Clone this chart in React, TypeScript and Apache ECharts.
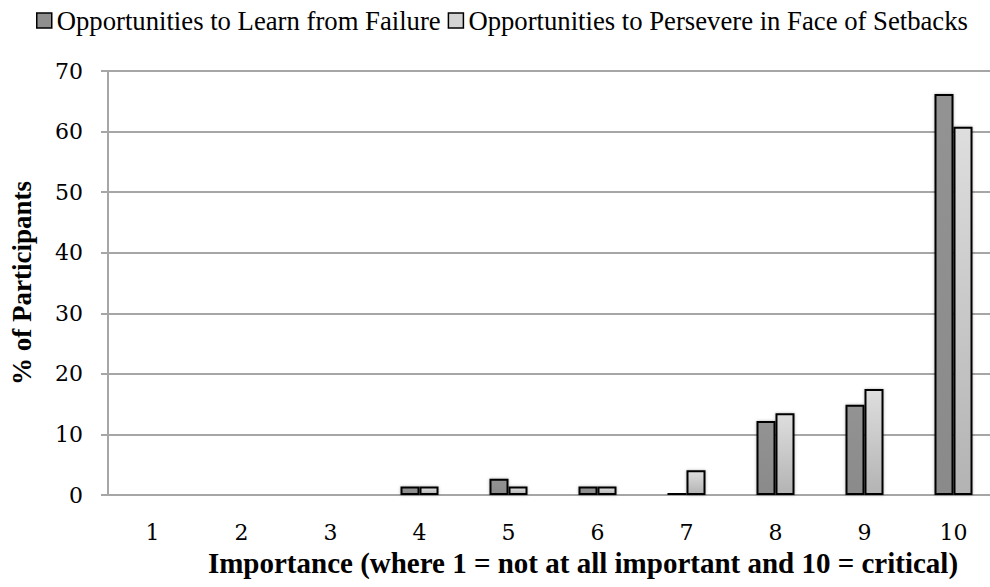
import React, { useEffect, useRef } from "react";
import * as echarts from "echarts";

const categories = ["1", "2", "3", "4", "5", "6", "7", "8", "9", "10"];
const learnFromFailure = [0, 0, 0, 1.4, 2.7, 1.4, 0.4, 12.2, 14.9, 66.2];
const persevere = [0, 0, 0, 1.4, 1.4, 1.4, 4.1, 13.5, 17.5, 60.8];
const seriesNames = [
  "Opportunities to Learn from Failure",
  "Opportunities to Persevere in Face of Setbacks",
];

const SERIF = "'Liberation Serif', 'Times New Roman', serif";
const TICKFONT = "'DejaVu Serif', serif";

export default function App() {
  const ref = useRef<HTMLDivElement>(null);
  useEffect(() => {
    const chart = echarts.init(ref.current!, null, { renderer: "svg" });
    const darkFill = new echarts.graphic.LinearGradient(0, 0, 0, 1, [
      { offset: 0, color: "#939393" },
      { offset: 1, color: "#8a8a8a" },
    ]);
    const lightFill = new echarts.graphic.LinearGradient(0, 0, 0, 1, [
      { offset: 0, color: "#dedede" },
      { offset: 1, color: "#b3b3b3" },
    ]);
    chart.setOption({
      animation: false,
      legend: {
        top: 2,
        left: 31,
        itemWidth: 15,
        itemHeight: 15,
        itemGap: 7,
        icon: "rect",
        textStyle: {
          fontFamily: SERIF,
          fontSize: 26.7,
          color: "#000",
        },
        data: [
          { name: seriesNames[0], itemStyle: { color: "#8f8f8f", borderColor: "#000", borderWidth: 1.5 } },
          { name: seriesNames[1], itemStyle: { color: "#d4d4d4", borderColor: "#000", borderWidth: 1.5 } },
        ],
      },
      grid: { left: 98, right: 2, top: 71, bottom: 92 },
      xAxis: {
        type: "category",
        data: categories,
        name: "Importance (where 1 = not at all important and 10 = critical)",
        nameLocation: "middle",
        nameGap: 53,
        nameTextStyle: {
          fontFamily: SERIF,
          fontWeight: "bold",
          fontSize: 29,
          color: "#000",
          padding: [0, 0, 0, 60],
        },
        axisLine: { lineStyle: { color: "#a6a6a6", width: 2 } },
        axisTick: { show: false },
        axisLabel: {
          fontFamily: TICKFONT,
          fontSize: 22,
          color: "#000",
          margin: 26,
        },
      },
      yAxis: {
        type: "value",
        min: 0,
        max: 70,
        interval: 10,
        name: "% of Participants",
        nameLocation: "middle",
        nameGap: 73,
        nameRotate: 90,
        nameTextStyle: {
          fontFamily: SERIF,
          fontWeight: "bold",
          fontSize: 27,
          color: "#000",
        },
        axisLine: { show: true, lineStyle: { color: "#a6a6a6", width: 2 } },
        axisTick: { show: true, length: 7, lineStyle: { color: "#a6a6a6", width: 2 } },
        axisLabel: {
          fontFamily: TICKFONT,
          fontSize: 22,
          color: "#000",
          margin: 25,
        },
        splitLine: { lineStyle: { color: "#a6a6a6", width: 2 } },
      },
      series: [
        {
          name: seriesNames[0],
          type: "bar",
          data: learnFromFailure,
          barWidth: 19,
          barGap: "0%",
          itemStyle: {
            color: darkFill,
            borderColor: "#000",
            borderWidth: 2,
            shadowColor: "rgba(0,0,0,0.3)",
            shadowBlur: 3,
          },
        },
        {
          name: seriesNames[1],
          type: "bar",
          data: persevere,
          barWidth: 19,
          barGap: "0%",
          itemStyle: {
            color: lightFill,
            borderColor: "#000",
            borderWidth: 2,
            shadowColor: "rgba(0,0,0,0.3)",
            shadowBlur: 3,
          },
        },
      ],
    });
    return () => chart.dispose();
  }, []);
  return (
    <div
      style={{
        position: "absolute",
        left: 0,
        top: 0,
        width: 990,
        height: 587,
        overflow: "hidden",
        background: "#fff",
      }}
    >
      <div ref={ref} style={{ width: 1000, height: 587 }} />
    </div>
  );
}
